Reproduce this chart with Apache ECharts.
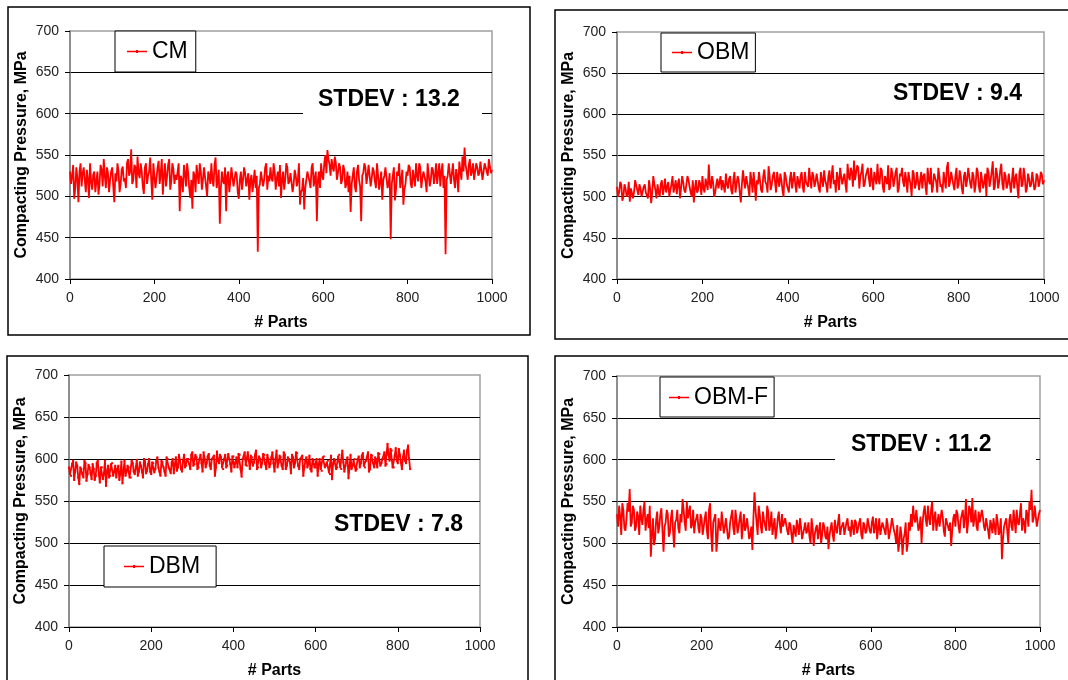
<!DOCTYPE html>
<html><head><meta charset="utf-8">
<script src="https://cdn.jsdelivr.net/npm/echarts@6/dist/echarts.min.js"></script>
<style>html,body{margin:0;padding:0;background:#fff}#c{width:1068px;height:680px}</style>
</head><body><div id="c"></div>
<script>
const SERIES_NAMES = ['CM', 'OBM', 'DBM', 'OBM-F'];
const STDEV_LABELS = ['STDEV : 13.2', 'STDEV : 9.4', 'STDEV : 7.8', 'STDEV : 11.2'];
const Y_AXIS_TITLE = 'Compacting Pressure, MPa';
const X_AXIS_TITLE = '# Parts';
const PART_STEP = 5;      // "A" values are read at parts 0, 5, 10, ...
const HALF_STEP = 2.5;    // "B" values are read midway, at 2.5, 7.5, ...

const cmValuesA = [
530,525,497,535,493,540,528,520,532,498,518,526,505,530,515,532,545,510,528,520,
535,493,518,530,515,536,522,540,525,557,520,535,548,522,530,503,540,525,547,496,
538,522,543,528,502,540,524,545,518,533,526,530,482,520,538,512,528,498,485,525,
538,515,530,520,533,500,525,540,512,547,520,467,530,515,482,530,518,535,510,526,
497,530,520,528,512,496,526,518,510,433,515,530,520,540,525,535,518,530,522,512,
498,530,520,535,518,530,515,525,520,490,508,484,520,530,510,540,522,470,530,540,
520,550,556,538,545,530,540,528,535,520,532,515,505,481,525,512,530,520,470,528,
535,525,540,522,530,510,525,518,496,525,535,515,448,525,495,530,540,520,490,515,
525,535,510,530,540,518,535,522,530,505,538,520,532,525,515,540,530,510,430,525,
538,528,520,533,505,540,548,559,530,538,525,540,522,535,528,542,530,538,525,545,532];
const cmValuesB = [
515,538,510,522,530,512,535,505,520,540,508,530,518,502,538,512,525,535,505,530,
512,528,540,505,532,518,510,545,530,515,538,510,528,540,512,535,515,530,520,540,
510,535,515,545,525,512,538,508,540,515,520,540,525,505,528,540,510,520,530,505,
525,540,508,535,512,530,515,520,538,510,532,510,518,535,525,505,535,512,530,505,
520,508,535,512,528,520,505,532,525,510,530,512,535,508,518,522,540,508,530,538,
520,508,540,515,528,505,532,512,540,505,522,510,530,518,535,512,530,520,510,525,
540,528,545,525,535,548,520,540,515,538,510,530,525,515,535,505,538,512,525,540,
515,538,512,535,518,540,508,530,520,535,510,528,515,535,508,525,510,532,508,530,
538,515,532,512,525,540,510,530,518,540,512,535,515,540,528,512,540,525,520,540,
515,540,510,525,542,520,530,538,520,545,530,520,540,525,542,520,540,530,545,528];

const obmValuesA = [
512,505,515,500,510,503,494,512,506,520,502,510,498,515,505,520,492,525,508,515,
500,520,510,505,518,508,525,512,503,522,510,518,505,525,512,500,493,520,508,515,
525,505,520,539,510,518,505,522,512,508,520,528,510,525,503,530,515,520,493,532,
510,525,500,520,530,495,515,528,505,533,515,537,508,525,518,530,512,520,500,525,
515,522,510,530,505,518,525,512,530,520,535,510,525,518,528,505,520,532,515,525,
510,538,520,530,508,535,522,515,540,520,530,544,518,535,525,540,515,530,522,535,
508,528,540,515,532,505,525,538,512,528,520,535,510,525,518,530,505,522,501,528,
515,532,520,510,528,502,520,535,512,528,505,525,515,530,510,542,518,528,508,535,
515,525,503,530,520,537,510,525,515,530,505,528,518,501,530,520,543,512,528,518,
540,508,525,515,530,520,510,528,498,535,515,525,510,522,515,530,512,525,518,527,520];
const obmValuesB = [
500,518,495,515,500,518,510,498,520,508,515,500,512,505,498,510,505,515,498,505,
515,502,522,512,500,515,505,520,515,498,525,508,515,520,505,520,510,505,520,502,
510,522,508,515,525,500,515,510,525,520,505,515,522,508,520,505,525,505,515,520,
525,510,530,505,515,520,530,508,525,518,505,525,515,530,505,520,528,508,530,515,
505,530,520,515,525,510,530,505,518,512,522,530,512,528,510,530,512,520,505,532,
525,515,505,522,535,515,528,505,525,535,512,520,538,510,530,512,525,535,512,520,
530,515,520,535,512,525,515,508,535,512,530,505,528,535,512,520,530,515,532,510,
530,508,530,525,512,535,515,505,528,518,535,512,505,520,535,512,530,515,525,510,
532,510,525,512,535,515,530,505,535,512,530,510,528,535,512,530,508,535,510,532,
515,530,510,528,505,535,522,512,530,512,535,505,528,512,530,508,528,512,530,515];

const dbmValuesA = [
590,580,598,585,592,570,588,578,595,582,590,576,588,580,598,572,590,583,568,592,
580,595,585,578,592,583,571,598,585,590,578,595,582,599,585,592,578,597,586,600,
582,595,588,602,585,598,590,580,600,588,596,583,602,590,598,585,605,592,600,588,
608,594,602,590,605,585,600,595,606,588,600,580,609,595,602,588,605,592,600,585,
603,596,590,605,579,600,593,608,588,602,596,610,590,600,595,605,588,600,594,608,
585,610,596,602,588,605,592,600,583,602,595,607,588,600,580,598,590,604,585,598,
590,580,600,586,603,592,598,582,576,600,588,603,590,610,585,598,577,605,592,600,
588,603,595,607,590,600,585,605,595,602,590,606,595,600,592,618,598,610,590,613,
595,605,588,610,595,616,588];
const dbmValuesB = [
582,594,575,596,578,590,582,598,574,593,583,594,575,595,582,590,576,598,585,578,
594,580,592,588,575,597,585,580,592,578,598,585,590,580,596,585,600,583,594,585,
596,584,598,590,580,596,585,602,590,583,600,594,586,605,588,598,590,600,594,605,
592,605,588,600,595,608,590,603,592,600,604,590,598,605,590,600,590,606,594,603,
590,602,606,588,600,608,592,598,604,592,605,588,603,590,606,594,605,590,602,595,
600,590,604,592,608,588,602,596,605,590,608,592,600,604,590,602,594,588,600,590,
600,594,588,602,590,596,584,604,594,598,590,605,588,596,592,602,590,588,598,586,
600,590,604,592,598,608,588,604,590,600,607,592,600,608,594,605,612,590,604,598,
612,596,602,598,610,600];

const obmfValuesA = [
535,545,510,540,515,548,565,525,540,520,532,545,522,550,528,518,484,530,505,538,
520,542,490,525,535,512,540,495,528,518,535,553,525,550,530,518,540,525,535,512,
530,520,538,505,548,490,525,490,530,515,540,520,532,508,525,518,540,512,530,505,
535,520,528,510,492,561,525,545,520,538,530,545,515,538,520,505,530,522,535,518,
528,510,522,500,515,528,510,520,505,525,515,508,530,497,518,505,525,510,520,505,
493,518,510,528,512,535,518,525,508,530,520,528,510,525,518,530,505,522,515,528,
512,532,520,505,530,518,526,510,522,505,530,515,500,490,520,486,512,490,525,535,
545,525,540,520,500,538,528,545,522,550,530,515,535,520,532,508,528,515,497,530,
520,535,512,528,518,553,525,540,554,530,520,538,525,532,515,528,505,522,530,510,
525,515,481,520,530,500,535,515,528,540,522,548,530,512,535,550,564,530,545,528,540];
const obmfValuesB = [
520,532,548,518,530,538,520,545,515,538,510,530,540,515,535,545,510,498,528,512,
535,515,520,540,508,530,515,525,540,512,525,540,515,530,545,522,512,530,518,535,
510,530,515,540,512,525,535,505,520,538,512,530,505,525,540,510,528,520,538,520,
515,530,505,520,530,540,510,535,512,528,515,538,522,510,530,515,538,512,520,530,
515,525,510,522,508,520,530,505,518,512,525,500,518,510,522,515,500,525,508,520,
510,525,502,518,525,510,522,510,525,515,508,520,528,512,525,510,525,512,530,515,
525,512,530,518,510,525,515,530,505,520,528,510,522,500,510,505,525,500,515,520,
530,540,515,532,525,545,520,530,540,515,538,525,520,540,515,530,520,525,515,535,
540,520,528,540,530,512,545,525,520,540,515,525,540,520,530,515,528,512,520,535,
510,530,505,525,515,528,520,540,512,525,535,515,525,540,520,540,525,545,520,535];

const VALUES_A = [cmValuesA, obmValuesA, dbmValuesA, obmfValuesA];
const VALUES_B = [cmValuesB, obmValuesB, dbmValuesB, obmfValuesB];

function buildPoints(a, b) {
  const pts = [];
  a.forEach((v, k) => {
    pts.push([k * PART_STEP, v]);
    if (k < b.length) pts.push([k * PART_STEP + HALF_STEP, b[k]]);
  });
  return pts;
}

const FONT = '"Liberation Sans", Arial, sans-serif';
const grids = [
  {left: 70, top: 31, width: 422, height: 248},
  {left: 617, top: 32, width: 427, height: 247},
  {left: 69, top: 375, width: 411, height: 254},
  {left: 617, top: 376, width: 423, height: 252}
];
const legendPos = [
  {left: 115, top: 31, padding: [9, 8, 9, 12]},
  {left: 661, top: 33, padding: [8, 6, 8, 11]},
  {left: 104, top: 546, padding: [9, 16, 9, 20]},
  {left: 660, top: 377, padding: [9, 6, 8, 9]}
];

const xAxes = grids.map((g, i) => ({
  type: 'value', gridIndex: i, min: 0, max: 1000, interval: 200,
  name: X_AXIS_TITLE, nameLocation: 'middle', nameGap: 36,
  nameTextStyle: {fontFamily: FONT, fontWeight: 'bold', fontSize: 16, color: '#000'},
  axisLine: {show: true, lineStyle: {color: '#000', width: 1}},
  axisTick: {show: true, inside: false, length: 5, lineStyle: {color: '#000'}},
  axisLabel: {fontFamily: FONT, fontSize: 14, color: '#222', margin: 12, formatter: v => String(v)},
  splitLine: {show: false}
}));
const yAxes = grids.map((g, i) => ({
  type: 'value', gridIndex: i, min: 400, max: 700, interval: 50,
  name: Y_AXIS_TITLE, nameLocation: 'middle', nameGap: 40, nameRotate: 90,
  nameTextStyle: {fontFamily: FONT, fontWeight: 'bold', fontSize: 16, color: '#000'},
  axisLine: {show: true, lineStyle: {color: '#808080', width: 1.5}},
  axisTick: {show: true, inside: false, length: 5, lineStyle: {color: '#000'}},
  axisLabel: {fontFamily: FONT, fontSize: 14, color: '#222', margin: 11},
  splitLine: {show: true, showMinLine: false, showMaxLine: false, lineStyle: {color: '#000', width: 1}}
}));

const series = VALUES_A.map((vals, i) => ({
  name: SERIES_NAMES[i], type: 'line', xAxisIndex: i, yAxisIndex: i,
  data: buildPoints(vals, VALUES_B[i]),
  symbol: i === 2 ? 'rect' : 'none', symbolSize: 2, showSymbol: i === 2,
  lineStyle: {color: '#ff0000', width: 1.8},
  itemStyle: {color: '#ff0000'},
  animation: false, z: 3
}));

const LEGEND_ICON = 'path://M0,1.2 H20 V2.8 H0 Z M9,0.4 H11 V3.6 H9 Z';
const legends = legendPos.map((p, i) => ({
  data: [{name: SERIES_NAMES[i], icon: LEGEND_ICON}], left: p.left, top: p.top, padding: p.padding,
  orient: 'horizontal', borderColor: '#000', borderWidth: 1, backgroundColor: '#fff',
  itemWidth: 20, itemHeight: 4, selectedMode: false,
  textStyle: {fontFamily: FONT, fontSize: 23, color: '#000'}
}));

const panelStroke = {stroke: '#000', lineWidth: 1.5, fill: 'none'};
const graphic = [
  {type: 'rect', shape: {x: 8, y: 7, width: 522, height: 328}, style: panelStroke, z: 1},
  {type: 'rect', shape: {x: 555, y: 10, width: 530, height: 329}, style: panelStroke, z: 1},
  {type: 'rect', shape: {x: 7, y: 356, width: 521, height: 340}, style: panelStroke, z: 1},
  {type: 'rect', shape: {x: 555, y: 356, width: 530, height: 340}, style: panelStroke, z: 1},
  {type: 'rect', shape: {x: 303, y: 82, width: 179, height: 36}, style: {fill: '#fff'}, z: 50},
  {type: 'rect', shape: {x: 835, y: 426, width: 201, height: 37}, style: {fill: '#fff'}, z: 50},
  {type: 'text', left: 318, top: 88, z: 60, style: {text: STDEV_LABELS[0], font: 'bold 23px ' + FONT, fill: '#000'}},
  {type: 'text', left: 893, top: 82, z: 60, style: {text: STDEV_LABELS[1], font: 'bold 23px ' + FONT, fill: '#000'}},
  {type: 'text', left: 334, top: 513, z: 60, style: {text: STDEV_LABELS[2], font: 'bold 23px ' + FONT, fill: '#000'}},
  {type: 'text', left: 851, top: 433, z: 60, style: {text: STDEV_LABELS[3], font: 'bold 23px ' + FONT, fill: '#000'}}
];

const chart = echarts.init(document.getElementById('c'), null, {renderer: 'canvas'});
chart.setOption({
  animation: false,
  backgroundColor: '#fff',
  grid: grids.map(g => Object.assign({show: true, borderColor: '#a0a0a0', borderWidth: 1.5, backgroundColor: 'transparent'}, g)),
  xAxis: xAxes,
  yAxis: yAxes,
  legend: legends,
  series: series,
  graphic: graphic
});
</script></body></html>
